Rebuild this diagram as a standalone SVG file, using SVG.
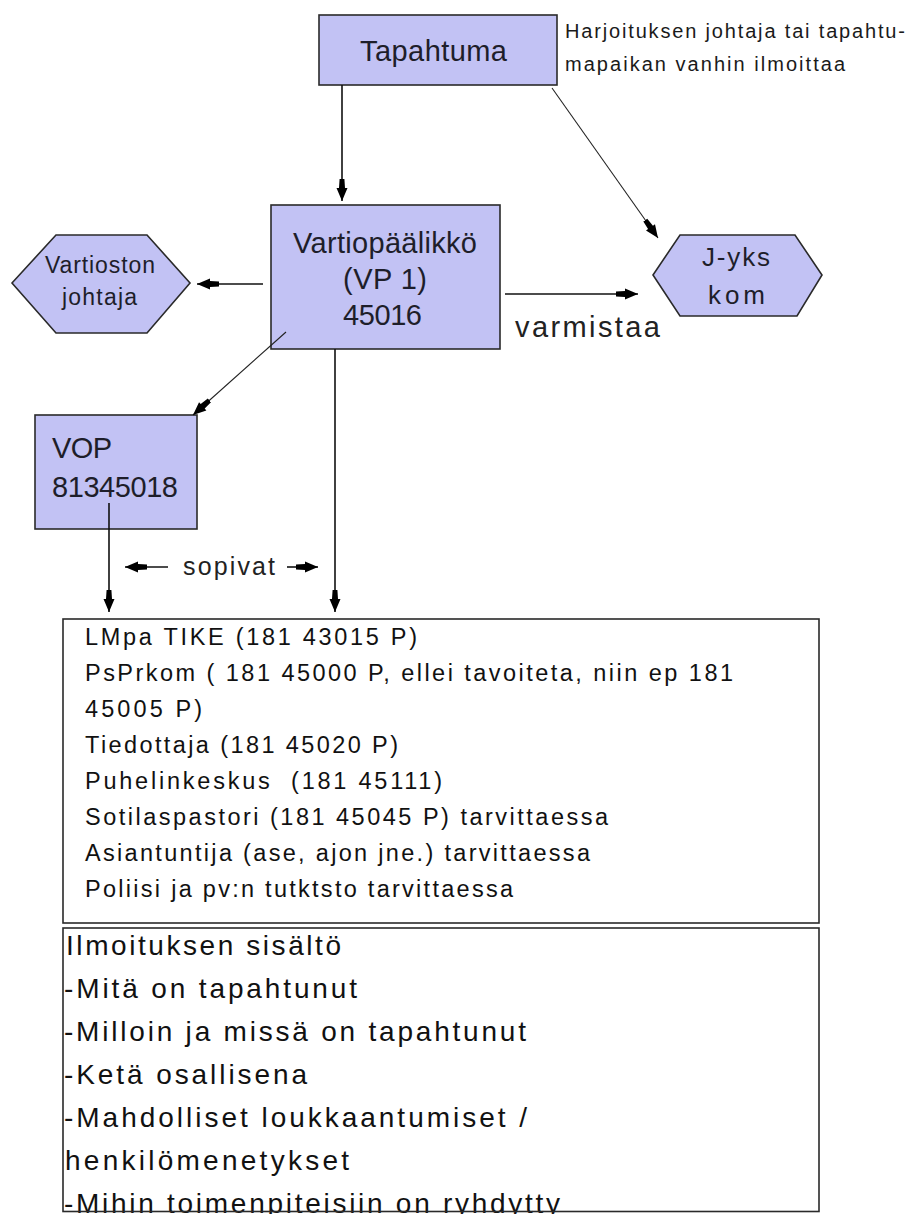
<svg xmlns="http://www.w3.org/2000/svg" width="910" height="1214" viewBox="0 0 910 1214">
<style>
.node{fill:#c2c2f4;stroke:#2a2a2a;stroke-width:1.6}
.box{fill:#ffffff;stroke:#2a2a2a;stroke-width:1.6}
.lbl{font-family:"Liberation Sans",Arial,sans-serif;fill:#1e1e2a}
.big{font-size:29px}
.mid{font-size:23px}
.note{font-family:"Liberation Sans",Arial,sans-serif;font-size:20px;fill:#1a1a1a}
.t1{font-family:"Liberation Sans",Arial,sans-serif;font-size:23.5px;fill:#111}
.t2{font-family:"Liberation Sans",Arial,sans-serif;font-size:28px;fill:#111}
.con{fill:none;stroke:#111;stroke-width:1.6}
.thin{fill:none;stroke:#222;stroke-width:1.1}
</style>
<defs>
<marker id="ah" viewBox="0 0 22 12" refX="22" refY="6" markerWidth="22" markerHeight="12" markerUnits="userSpaceOnUse" orient="auto">
<path d="M22,6 L9,0.5 L9,3 L0,3.6 L0,8.4 L9,9 L9,11.5 Z" fill="#000"/>
</marker>
</defs>
<rect width="910" height="1214" fill="#ffffff"/>

<g id="tapahtuma">
<rect class="node" x="319" y="15" width="238" height="70"/>
<text class="lbl big" x="360" y="61" textLength="147">Tapahtuma</text>
</g>

<g id="annotation">
<text class="note" x="565" y="38" textLength="340">Harjoituksen johtaja tai tapahtu-</text>
<text class="note" x="565" y="71" textLength="280">mapaikan vanhin ilmoittaa</text>
</g>

<g id="vartiopaalikko">
<rect class="node" x="271" y="205" width="229" height="144"/>
<text class="lbl big" x="293" y="253" textLength="184">Vartiopäälikkö</text>
<text class="lbl big" x="343" y="289" textLength="84">(VP 1)</text>
<text class="lbl big" x="343" y="325" textLength="79">45016</text>
</g>

<g id="vartioston-johtaja">
<polygon class="node" points="12,283 56,235 147,235 190,283 147,333 56,333"/>
<text class="lbl mid" x="45" y="273" textLength="110">Vartioston</text>
<text class="lbl mid" x="62" y="305" textLength="75">johtaja</text>
</g>

<g id="j-yks-kom">
<polygon class="node" points="653,275 680,235 795,235 822,275 797,316 680,316"/>
<text class="lbl" style="font-size:26px" x="702" y="266" textLength="68">J-yks</text>
<text class="lbl" style="font-size:26px" x="708" y="304" textLength="57">kom</text>
</g>

<g id="vop">
<rect class="node" x="35" y="415" width="162" height="114"/>
<text class="lbl big" x="52" y="458" textLength="60">VOP</text>
<text class="lbl big" x="52" y="497" textLength="126">81345018</text>
</g>

<g id="yhteystiedot">
<rect class="box" x="63" y="619" width="756" height="304"/>
<text class="t1" x="85" y="645" textLength="332">LMpa TIKE (181 43015 P)</text>
<text class="t1" x="85" y="681" textLength="648">PsPrkom ( 181 45000 P, ellei tavoiteta, niin ep 181</text>
<text class="t1" x="85" y="717" textLength="117">45005 P)</text>
<text class="t1" x="85" y="753" textLength="313">Tiedottaja (181 45020 P)</text>
<text class="t1" x="85" y="789" textLength="357" xml:space="preserve">Puhelinkeskus  (181 45111)</text>
<text class="t1" x="85" y="825" textLength="523">Sotilaspastori (181 45045 P) tarvittaessa</text>
<text class="t1" x="85" y="861" textLength="505">Asiantuntija (ase, ajon jne.) tarvittaessa</text>
<text class="t1" x="85" y="897" textLength="428">Poliisi ja pv:n tutktsto tarvittaessa</text>
</g>

<g id="ilmoituksen-sisalto">
<text class="t2" x="66" y="955" textLength="275">Ilmoituksen sisältö</text>
<text class="t2" x="64" y="998" textLength="293">-Mitä on tapahtunut</text>
<text class="t2" x="64" y="1041" textLength="462">-Milloin ja missä on tapahtunut</text>
<text class="t2" x="64" y="1084" textLength="243">-Ketä osallisena</text>
<text class="t2" x="64" y="1127" textLength="463">-Mahdolliset loukkaantumiset /</text>
<text class="t2" x="65" y="1170" textLength="284">henkilömenetykset</text>
<text class="t2" x="64" y="1213" textLength="496">-Mihin toimenpiteisiin on ryhdytty</text>
<rect class="box" style="fill:none" x="63" y="928" width="756" height="283.5"/>
</g>

<g id="connectors">
<line class="con" x1="342" y1="85" x2="342" y2="201" marker-end="url(#ah)"/>
<line class="thin" x1="552" y1="88" x2="658" y2="238" marker-end="url(#ah)"/>
<line class="con" x1="263" y1="284" x2="197" y2="284" marker-end="url(#ah)"/>
<line class="con" x1="505" y1="294" x2="638" y2="294" marker-end="url(#ah)"/>
<line class="thin" x1="286" y1="332" x2="193" y2="415" marker-end="url(#ah)"/>
<line class="con" x1="109" y1="503" x2="109" y2="612" marker-end="url(#ah)"/>
<line class="con" x1="335" y1="349" x2="335" y2="612" marker-end="url(#ah)"/>
<line class="con" x1="168" y1="567" x2="125" y2="567" marker-end="url(#ah)"/>
<line class="con" x1="287" y1="567" x2="318" y2="567" marker-end="url(#ah)"/>
<text class="lbl" style="font-size:29px;fill:#222" x="515" y="337" textLength="145">varmistaa</text>
<text class="lbl" style="font-size:25px;fill:#222" x="183" y="575" textLength="92">sopivat</text>
</g>
</svg>
